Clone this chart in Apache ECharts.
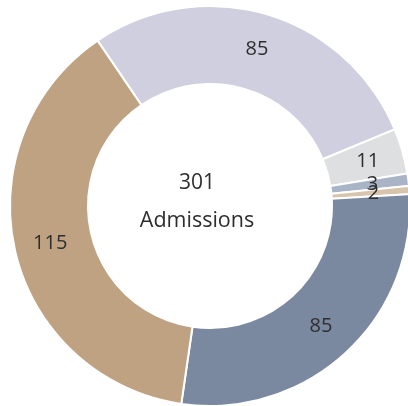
<!DOCTYPE html>
<html><head><meta charset="utf-8">
<script src="https://cdn.jsdelivr.net/npm/echarts@6/dist/echarts.min.js"></script>
<style>html,body{margin:0;padding:0;background:#fff}#c{width:408px;height:406px}</style>
</head><body><div id="c"></div>
<script>
const categories = ['A', 'B', 'C', 'D', 'E', 'F'];
const values = [85, 11, 3, 2, 85, 115];
const colors = ['#CFCFDF', '#DEDFE1', '#A9B5C6', '#D8C4AC', '#7A88A0', '#BFA282'];
const centerLines = ['301', 'Admissions'];

const chart = echarts.init(document.getElementById('c'));
chart.setOption({
  animation: false,
  graphic: [
    { type: 'text', style: { text: centerLines[0], font: '21px "Open Sans"', fill: '#2e2e2e', textAlign: 'center', textVerticalAlign: 'middle' }, x: 197, y: 183 },
    { type: 'text', style: { text: centerLines[1], font: '21.5px "Open Sans"', fill: '#2e2e2e', textAlign: 'center', textVerticalAlign: 'middle' }, x: 197, y: 221 }
  ],
  series: [{
    type: 'pie',
    center: [210, 206],
    radius: [122, 200],
    startAngle: 124.2,
    clockwise: true,
    silent: true,
    avoidLabelOverlap: false,
    labelLayout: { hideOverlap: false },
    itemStyle: { borderColor: '#fff', borderWidth: 2 },
    label: { show: true, position: 'inside', formatter: '{c}', color: '#2e2e2e', fontSize: 20, fontFamily: 'Open Sans' },
    labelLine: { show: false },
    data: categories.map((n, i) => ({ name: n, value: values[i], itemStyle: { color: colors[i] } }))
  }]
});
</script></body></html>
